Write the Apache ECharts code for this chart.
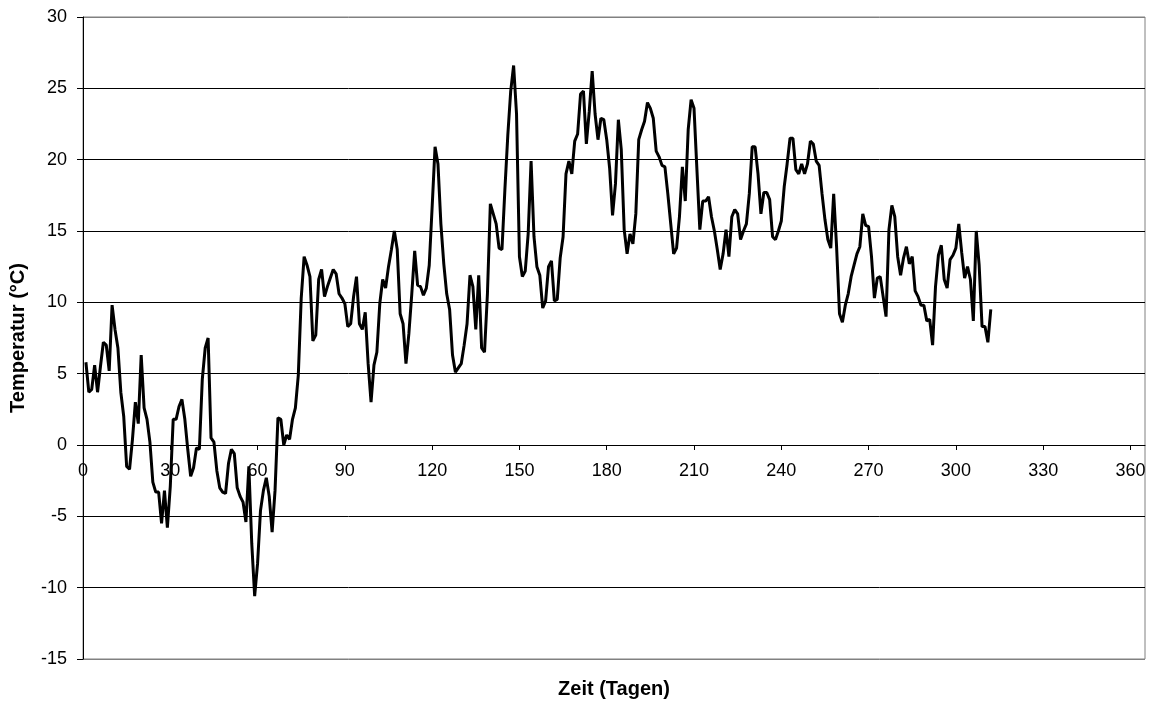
<!DOCTYPE html>
<html>
<head>
<meta charset="utf-8">
<script src="https://cdn.jsdelivr.net/npm/echarts@6/dist/echarts.min.js"></script>
<style>
  html, body { margin: 0; padding: 0; background: #fff; }
  #chart { width: 1156px; height: 708px; }
</style>
</head>
<body>
<div id="chart"></div>
<script>
// Daily temperature (°C), day 1 .. 312
const temperatures = [
  5.8, 3.7, 3.9, 5.6, 3.7, 5.5, 7.2, 7.0, 5.2, 9.8,
  8.1, 6.8, 3.7, 2.0, -1.5, -1.7, 0.4, 3.0, 1.5, 6.3,
  2.6, 1.8, 0.2, -2.6, -3.3, -3.3, -5.5, -3.2, -5.8, -2.9,
  1.8, 1.8, 2.7, 3.2, 1.8, -0.3, -2.2, -1.6, -0.2, -0.3,
  4.6, 6.8, 7.5, 0.5, 0.2, -1.8, -3.0, -3.3, -3.4, -1.3,
  -0.3, -0.6, -3.0, -3.6, -4.0, -5.4, -1.5, -6.9, -10.6, -8.3,
  -4.6, -3.2, -2.3, -3.6, -6.1, -3.2, 1.9, 1.8, 0.0, 0.7,
  0.4, 1.8, 2.6, 4.9, 10.3, 13.2, 12.6, 11.8, 7.3, 7.7,
  11.6, 12.3, 10.4, 11.1, 11.7, 12.3, 12.0, 10.6, 10.3, 9.9,
  8.3, 8.5, 10.4, 11.8, 8.5, 8.1, 9.3, 5.7, 3.0, 5.6,
  6.5, 9.9, 11.6, 11.0, 12.5, 13.7, 15.0, 13.7, 9.2, 8.5,
  5.7, 7.8, 10.6, 13.6, 11.2, 11.1, 10.5, 11.0, 12.6, 16.7,
  20.9, 19.7, 15.5, 12.7, 10.6, 9.5, 6.3, 5.1, 5.4, 5.7,
  7.0, 8.5, 11.9, 11.1, 8.1, 11.9, 6.8, 6.5, 10.6, 16.9,
  16.2, 15.5, 13.8, 13.7, 17.9, 21.7, 24.8, 26.6, 23.2, 13.2,
  11.8, 12.2, 14.8, 19.9, 14.6, 12.5, 11.9, 9.6, 10.1, 12.5,
  12.9, 10.1, 10.2, 13.1, 14.6, 19.0, 19.9, 19.0, 21.3, 21.8,
  24.6, 24.8, 21.1, 23.4, 26.2, 23.2, 21.4, 22.9, 22.8, 21.4,
  19.4, 16.1, 18.3, 22.8, 20.7, 15.1, 13.4, 14.8, 14.1, 16.2,
  21.4, 22.1, 22.7, 24.0, 23.6, 22.9, 20.6, 20.2, 19.6, 19.5,
  17.6, 15.5, 13.4, 13.8, 16.0, 19.5, 17.1, 22.1, 24.2, 23.6,
  19.3, 15.1, 17.1, 17.1, 17.4, 16.0, 15.0, 13.7, 12.3, 13.4,
  15.1, 13.2, 16.0, 16.5, 16.2, 14.4, 15.0, 15.5, 17.6, 20.9,
  20.9, 19.0, 16.2, 17.7, 17.7, 17.2, 14.6, 14.4, 15.0, 15.7,
  18.1, 19.7, 21.5, 21.5, 19.3, 19.0, 19.7, 19.0, 19.7, 21.3,
  21.1, 19.9, 19.6, 17.6, 15.8, 14.4, 13.8, 17.6, 13.9, 9.2,
  8.6, 9.8, 10.6, 11.8, 12.6, 13.4, 13.9, 16.2, 15.4, 15.3,
  13.2, 10.3, 11.7, 11.8, 10.4, 9.0, 15.1, 16.8, 16.0, 13.2,
  11.9, 13.1, 13.9, 12.7, 13.2, 10.8, 10.4, 9.8, 9.8, 8.7,
  8.8, 7.0, 11.1, 13.3, 14.0, 11.6, 11.0, 13.0, 13.3, 13.8,
  15.5, 13.5, 11.7, 12.5, 11.6, 8.7, 15.0, 12.6, 8.3, 8.3,
  7.2, 9.5
];
const firstDay = 1;
const xTicks = [0, 30, 60, 90, 120, 150, 180, 210, 240, 270, 300, 330, 360];
const yTicks = [-15, -10, -5, 0, 5, 10, 15, 20, 25, 30];
const xTitle = 'Zeit (Tagen)';
const yTitle = 'Temperatur (°C)';

const seriesData = temperatures.map((t, i) => [firstDay + i, t]);
const FONT = 'Liberation Sans, Arial, sans-serif';

const CHART_W = 1156, CHART_H = 708;
const GRID_LEFT = 83, GRID_RIGHT = 11, GRID_TOP = 17, GRID_BOTTOM = 49;
const Y_MIN = -15, Y_MAX = 30;
// shift the x axis (line, ticks, labels) up to the y = 0 level, as in the original
const plotH = CHART_H - GRID_TOP - GRID_BOTTOM;
const xAxisOffset = -plotH * (0 - Y_MIN) / (Y_MAX - Y_MIN);
const plotCenterX = GRID_LEFT + (CHART_W - GRID_LEFT - GRID_RIGHT) / 2;

const chart = echarts.init(document.getElementById('chart'), null, { renderer: 'canvas' });
chart.setOption({
  animation: false,
  backgroundColor: '#ffffff',
  grid: {
    left: GRID_LEFT, right: GRID_RIGHT, top: GRID_TOP, bottom: GRID_BOTTOM,
    containLabel: false,
    outerBoundsMode: 'none',
    show: true, borderColor: '#808080', borderWidth: 1, backgroundColor: 'transparent'
  },
  xAxis: {
    type: 'value',
    min: 0, max: 365, interval: 30,
    offset: xAxisOffset,
    axisLine: { show: true, onZero: false, lineStyle: { color: '#000', width: 1 } },
    axisTick: { show: true, inside: false, length: 5, customValues: xTicks, lineStyle: { color: '#000' } },
    axisLabel: { customValues: xTicks, color: '#000', fontSize: 18, fontFamily: FONT, margin: 17 },
    splitLine: { show: false }
  },
  yAxis: {
    type: 'value',
    min: Y_MIN, max: Y_MAX, interval: 5,
    name: yTitle,
    nameLocation: 'middle',
    nameGap: 55,
    nameTextStyle: { color: '#000', fontSize: 20, fontWeight: 'bold', fontFamily: FONT },
    axisLine: { show: true, onZero: false, lineStyle: { color: '#000', width: 1 } },
    axisTick: { show: true, inside: false, length: 6, lineStyle: { color: '#000' } },
    axisLabel: { color: '#000', fontSize: 18, fontFamily: FONT, margin: 16 },
    splitLine: { show: true, lineStyle: { color: yTicks.map((v, i) => (i === 0 || i === yTicks.length - 1) ? '#808080' : '#000'), width: 1 } }
  },
  graphic: [{
    type: 'text',
    x: plotCenterX,
    y: 679,
    style: { text: xTitle, fill: '#000', font: 'bold 20px ' + FONT, textAlign: 'center', textVerticalAlign: 'top' }
  }],
  series: [{
    type: 'line',
    data: seriesData,
    showSymbol: false,
    symbol: 'none',
    lineStyle: { color: '#000', width: 3 },
    z: 5
  }]
});
</script>
</body>
</html>
